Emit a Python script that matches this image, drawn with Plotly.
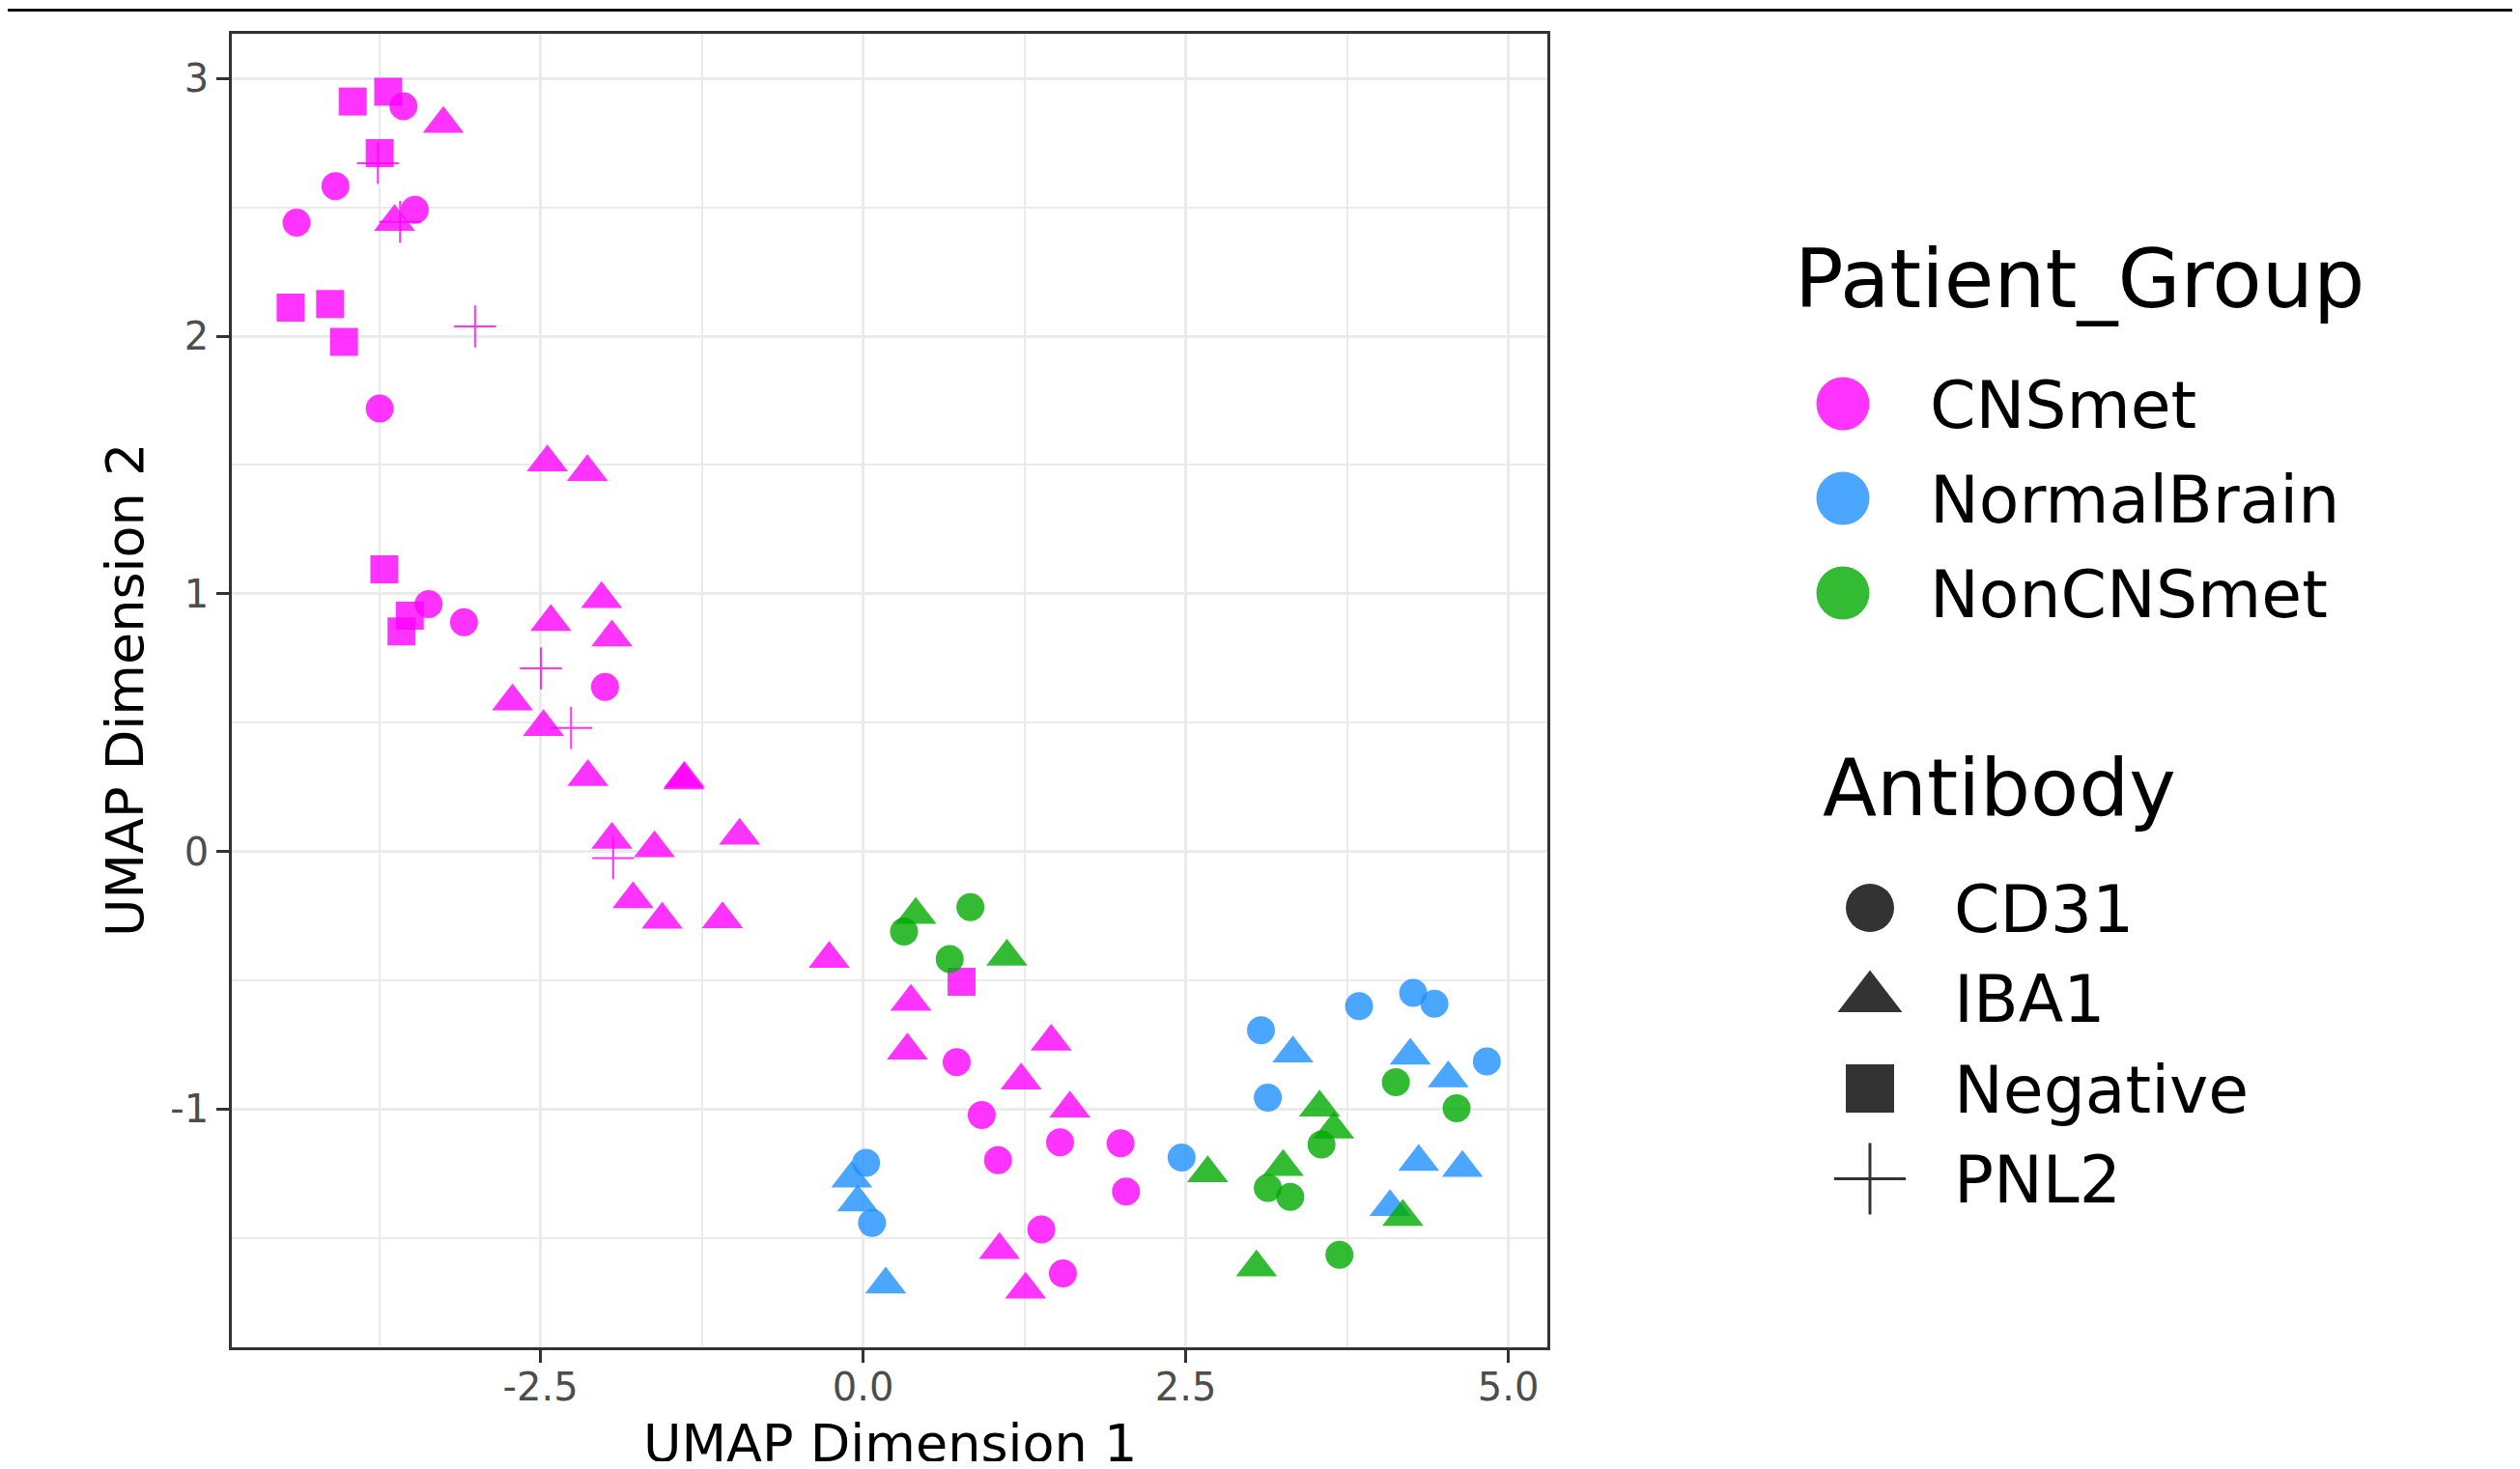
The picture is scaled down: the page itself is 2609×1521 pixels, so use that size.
import plotly.graph_objects as go

# ---------------- data ----------------
groups = ["CNSmet", "NormalBrain", "NonCNSmet"]
antibodies = ["CD31", "IBA1", "Negative", "PNL2"]

cns_x = [-3.562, -4.089, -4.39, -3.474, -3.746, -3.367, -3.093, -2.0, 0.725, 0.919, 1.045, 1.526, 1.995, 2.037, 1.381, 1.548,
         -3.253, -3.631, -2.447, -2.137, -2.027, -2.42, -1.947, -2.717, -2.477, -2.133, -1.39, -1.385, -1.947, -1.617, -0.957,
         -1.783, -1.557, -1.09, -0.263, 0.37, 0.343, 1.457, 1.224, 1.602, 1.056, 1.259,
         -3.955, -3.68, -3.746, -4.436, -4.13, -4.023, -3.71, -3.513, -3.577, 0.763,
         -3.76, -3.588, -3.007, -2.497, -2.263, -1.937]
cns_y = [2.893, 2.583, 2.441, 2.491, 1.719, 0.96, 0.89, 0.639, -0.818, -1.023, -1.199, -1.129, -1.133, -1.32, -1.468, -1.638,
         2.824, 2.444, 1.51, 1.4725, 0.98, 0.891, 0.831, 0.5825, 0.4825, 0.289, 0.276, 0.282, 0.045, 0.0125, 0.061,
         -0.185, -0.265, -0.263, -0.4165, -0.584, -0.773, -0.738, -0.889, -0.998, -1.547, -1.701,
         2.911, 2.949, 2.711, 2.111, 2.125, 1.978, 1.095, 0.915, 0.854, -0.506,
         2.672, 2.444, 2.038, 0.711, 0.479, -0.026]
cns_ab = ["CD31"] * 16 + ["IBA1"] * 26 + ["Negative"] * 10 + ["PNL2"] * 6

nb_x = [0.023, 0.069, 2.468, 3.083, 3.136, 3.843, 4.262, 4.427, 4.833,
        -0.088, -0.042, 0.175, 3.33, 4.24, 4.534, 4.305, 4.644, 4.083]
nb_y = [-1.209, -1.442, -1.188, -0.694, -0.956, -0.601, -0.549, -0.591, -0.815,
        -1.27, -1.363, -1.681, -0.784, -0.7925, -0.881, -1.205, -1.229, -1.38]
nb_ab = ["CD31"] * 9 + ["IBA1"] * 9

ncns_x = [0.317, 0.831, 0.671, 4.128, 4.599, 3.552, 3.136, 3.31, 3.691,
          0.408, 1.114, 2.67, 3.537, 3.647, 3.255, 4.182, 3.048]
ncns_y = [-0.311, -0.216, -0.418, -0.896, -0.9975, -1.1375, -1.306, -1.341, -1.566,
          -0.246, -0.408, -1.249, -0.994, -1.08, -1.225, -1.419, -1.615]
ncns_ab = ["CD31"] * 9 + ["IBA1"] * 8

x_ticks = [-2.5, 0.0, 2.5, 5.0]
x_ticklabels = ["-2.5", "0.0", "2.5", "5.0"]
x_minor = [-3.75, -1.25, 1.25, 3.75]
y_ticks = [-1, 0, 1, 2, 3]
y_ticklabels = ["-1", "0", "1", "2", "3"]
y_minor = [-1.5, -0.5, 0.5, 1.5, 2.5]
x_title = "UMAP Dimension 1"
y_title = "UMAP Dimension 2"

# ---------------- styles ----------------
FONT = "DejaVu Sans"
group_colors = {"CNSmet": "rgba(255,0,255,0.8)",
                "NormalBrain": "rgba(30,144,255,0.8)",
                "NonCNSmet": "rgba(0,170,0,0.8)"}
symbols = {"CD31": "circle", "IBA1": "triangle-up", "Negative": "square", "PNL2": "cross-thin"}
sizes = {"CD31": 29, "IBA1": 37, "Negative": 29, "PNL2": 31}
leg_sizes = {"CD31": 50, "IBA1": 58, "Negative": 50, "PNL2": 53}

# page (window) geometry; the html body adds an 8px margin
OFF = 8
WIN_W, WIN_H = 2609, 1521
W, H = WIN_W - 2 * OFF, WIN_H - 2 * OFF
plot_left, plot_right, plot_top, plot_bottom = 240 - OFF, 1602 - OFF, 35 - OFF, 1395 - OFF
ML, MT, MB = plot_left, plot_top, H - plot_bottom
PW, PH = W - ML, H - MT - MB

group_data = {"CNSmet": (cns_x, cns_y, cns_ab),
              "NormalBrain": (nb_x, nb_y, nb_ab),
              "NonCNSmet": (ncns_x, ncns_y, ncns_ab)}

fig = go.Figure()

for g in groups:
    gx, gy, gab = group_data[g]
    for ab in antibodies:
        xs = [x for x, a in zip(gx, gab) if a == ab]
        ys = [y for y, a in zip(gy, gab) if a == ab]
        if not xs:
            continue
        col = group_colors[g]
        marker = dict(symbol=symbols[ab], size=sizes[ab], color=col)
        if ab == "PNL2":
            marker["line"] = dict(color=col, width=2)
        else:
            marker["line"] = dict(width=0)
        fig.add_trace(go.Scatter(x=xs, y=ys, mode="markers", marker=marker,
                                 name=f"{g} {ab}", showlegend=False,
                                 xaxis="x", yaxis="y", hoverinfo="x+y+name"))

# ---------------- custom legend (pixel-coordinate helper axes) ----------------
leg_dom0 = 0.58
leg_px0 = ML + leg_dom0 * PW
annotations = []

pg_key_x, pg_lab_x, pg_y0, pg_dy = 1908 - OFF, 1996 - OFF, 418, 98
for i, g in enumerate(groups):
    yy = pg_y0 - OFF + i * pg_dy
    fig.add_trace(go.Scatter(x=[pg_key_x], y=[yy], mode="markers", xaxis="x2", yaxis="y2",
                             marker=dict(symbol="circle", size=55, color=group_colors[g], line=dict(width=0)),
                             showlegend=False, hoverinfo="skip"))
    annotations.append(dict(x=pg_lab_x, y=yy + 1, xref="x2", yref="y2", text=g, showarrow=False,
                            xanchor="left", yanchor="middle", font=dict(family=FONT, size=68, color="black")))
annotations.append(dict(x=1856 - OFF, y=289 - OFF, xref="x2", yref="y2", text="Patient_Group", showarrow=False,
                        xanchor="left", yanchor="middle", font=dict(family=FONT, size=84, color="black")))

ab_key_x, ab_lab_x, ab_y0, ab_dy = 1936 - OFF, 2021 - OFF, 940, 93.5
for i, ab in enumerate(antibodies):
    yy = ab_y0 - OFF + i * ab_dy
    mk = dict(symbol=symbols[ab], size=leg_sizes[ab], color="rgba(0,0,0,0.8)")
    if ab == "PNL2":
        mk["line"] = dict(color="rgba(0,0,0,0.8)", width=3)
    else:
        mk["line"] = dict(width=0)
    fig.add_trace(go.Scatter(x=[ab_key_x], y=[yy], mode="markers", xaxis="x2", yaxis="y2",
                             marker=mk, showlegend=False, hoverinfo="skip"))
    annotations.append(dict(x=ab_lab_x, y=yy + 1, xref="x2", yref="y2", text=ab, showarrow=False,
                            xanchor="left", yanchor="middle", font=dict(family=FONT, size=68, color="black")))
annotations.append(dict(x=1885 - OFF, y=815 - OFF, xref="x2", yref="y2", text="Antibody", showarrow=False,
                        xanchor="left", yanchor="middle", font=dict(family=FONT, size=82, color="black")))

# axis titles (paper coordinates, positioned from page pixels)
x_dom_end = (plot_right - ML) / PW
annotations.append(dict(x=x_dom_end / 2, y=(plot_bottom - (1494 - OFF)) / PH, xref="paper", yref="paper",
                        text=x_title, showarrow=False, xanchor="center", yanchor="middle",
                        font=dict(family=FONT, size=54, color="black")))
annotations.append(dict(x=(129 - OFF - ML) / PW, y=0.5, xref="paper", yref="paper", text=y_title, showarrow=False,
                        textangle=-90, xanchor="center", yanchor="middle",
                        font=dict(family=FONT, size=54, color="black")))

axis_common = dict(
    showgrid=True, gridcolor="#EBEBEB", gridwidth=3.2,
    zeroline=False, showline=True, linecolor="#333333", linewidth=2.5, mirror=True,
    ticks="outside", ticklen=13, tickwidth=2.5, tickcolor="#333333",
    tickfont=dict(family=FONT, size=40, color="#4D4D4D"),
)

fig.update_layout(
    width=W, height=H,
    margin=dict(l=ML, r=0, t=MT, b=MB, autoexpand=False),
    paper_bgcolor="white", plot_bgcolor="white",
    font=dict(family=FONT),
    xaxis=dict(domain=[0, x_dom_end], range=[-4.892, 5.302],
               tickvals=x_ticks, ticktext=x_ticklabels, ticklabelstandoff=-9,
               minor=dict(tickvals=x_minor, showgrid=True, gridcolor="#EBEBEB", gridwidth=1.8, ticks=""),
               anchor="y", **axis_common),
    yaxis=dict(domain=[0, 1], range=[-1.925, 3.174],
               tickvals=y_ticks, ticktext=y_ticklabels, ticklabelstandoff=0,
               minor=dict(tickvals=y_minor, showgrid=True, gridcolor="#EBEBEB", gridwidth=1.8, ticks=""),
               anchor="x", **axis_common),
    xaxis2=dict(domain=[leg_dom0, 1], range=[leg_px0, W], visible=False, anchor="y2", fixedrange=True),
    yaxis2=dict(domain=[0, 1], range=[H - MB, MT], visible=False, anchor="x2", fixedrange=True),
    annotations=annotations,
    shapes=[dict(type="line", xref="paper", yref="paper",
                 x0=-ML / PW, x1=1, y0=1 + (MT - (10.5 - OFF)) / PH, y1=1 + (MT - (10.5 - OFF)) / PH,
                 line=dict(color="#111111", width=3))],
    showlegend=False,
)

fig.write_html("out.html")
